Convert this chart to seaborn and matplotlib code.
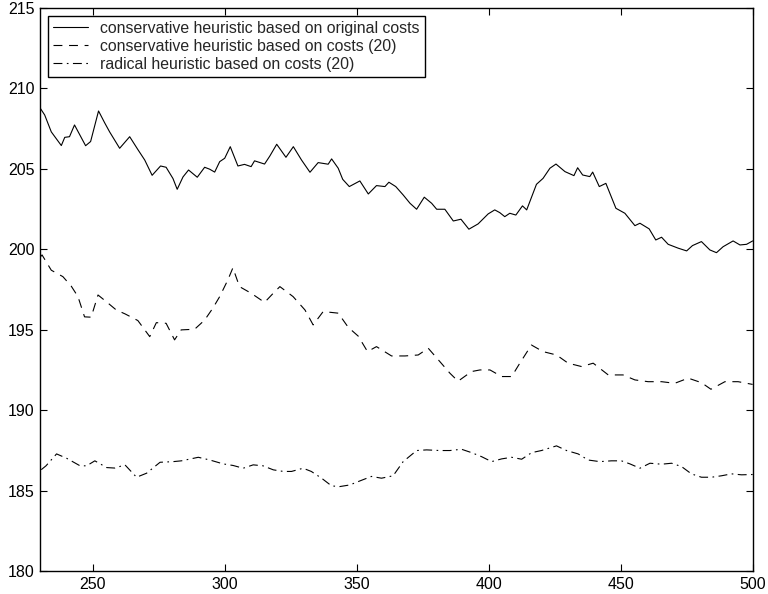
import matplotlib
matplotlib.use("Agg")
import matplotlib.pyplot as plt
import seaborn as sns

# conservative heuristic, original costs (solid)
orig_x = [230, 231.8, 234.3, 238.1, 239.4, 241.2, 243.1, 247.3, 249.2, 252.2, 254.5, 256.4,
          260.2, 264.0, 267.1, 269.7, 272.5, 275.7, 277.8, 280.4, 282.0, 284.2, 286.3, 289.6,
          292.4, 294.3, 296.2, 298.1, 300.0, 302.1, 305.0, 307.5, 310.0, 311.3, 315.1, 317.1,
          319.7, 323.2, 326.0, 329.1, 332.3, 335.4, 339.2, 340.5, 343.0, 344.7, 347.2, 351.2,
          354.4, 357.5, 360.7, 362.2, 364.8, 367.6, 370.2, 372.7, 375.6, 378.4, 380.3, 383.4,
          386.6, 389.5, 392.5, 396.0, 399.8, 402.3, 404.2, 406.1, 408.0, 410.3, 412.8, 414.4,
          418.1, 420.6, 423.2, 425.5, 428.9, 432.3, 433.7, 435.6, 438.3, 439.4, 441.9, 444.4,
          448.2, 451.6, 455.4, 457.3, 460.8, 463.3, 465.5, 468.0, 471.8, 475.0, 477.2, 480.6,
          483.8, 486.3, 488.8, 492.6, 495.2, 497.7, 500]
orig_y = [208.8, 208.35, 207.3, 206.45, 206.96, 207.0, 207.73, 206.44, 206.7, 208.6, 207.87, 207.3,
          206.28, 207.0, 206.2, 205.55, 204.6, 205.18, 205.1, 204.4, 203.73, 204.5, 204.93, 204.48,
          205.1, 204.98, 204.8, 205.45, 205.66, 206.38, 205.18, 205.28, 205.14, 205.5, 205.3, 205.8,
          206.53, 205.72, 206.38, 205.55, 204.79, 205.39, 205.29, 205.62, 205.04, 204.35, 203.9, 204.25,
          203.44, 203.96, 203.9, 204.17, 203.9, 203.38, 202.86, 202.49, 203.24, 202.86, 202.49, 202.49,
          201.76, 201.87, 201.25, 201.58, 202.2, 202.45, 202.28, 202.03, 202.24, 202.13, 202.7, 202.45,
          204.04, 204.41, 205.04, 205.3, 204.83, 204.58, 205.07, 204.62, 204.52, 204.8, 203.9, 204.1,
          202.55, 202.24, 201.47, 201.62, 201.27, 200.58, 200.75, 200.31, 200.07, 199.9, 200.23, 200.48,
          199.96, 199.79, 200.16, 200.52, 200.27, 200.31, 200.52]

# conservative heuristic, costs (20) (dashed)
cons_x = [230, 230.8, 234.3, 238.7, 241.9, 244.4, 246.9, 249.4, 252.0, 255.1, 258.9, 262.3,
          267.1, 271.6, 274.1, 277.8, 281.0, 283.5, 288.6, 292.4, 295.5, 298.1, 301.2, 303.1,
          305.6, 310.0, 315.1, 318.4, 320.9, 325.9, 330.4, 333.5, 337.3, 343.0, 346.8, 350.6,
          354.1, 357.5, 363.2, 368.3, 373.3, 377.1, 381.5, 385.3, 388.4, 393.5, 396.7, 400.5,
          404.9, 408.7, 411.8, 416.2, 420.6, 425.7, 430.1, 435.2, 439.6, 445.3, 450.9, 455.4,
          460.4, 465.5, 470.5, 475.6, 480.6, 484.2, 489.5, 494.5, 500]
cons_y = [199.5, 199.65, 198.7, 198.3, 197.7, 197.06, 195.8, 195.78, 197.16, 196.75, 196.23, 195.98,
          195.57, 194.57, 195.44, 195.4, 194.37, 194.99, 195.03, 195.6, 196.34, 197.06, 198.1, 198.85,
          197.68, 197.27, 196.7, 197.27, 197.68, 197.06, 196.23, 195.3, 196.13, 196.03, 195.15, 194.6,
          193.64, 193.95, 193.37, 193.37, 193.43, 193.85, 193.02, 192.3, 191.8, 192.4, 192.5, 192.5,
          192.09, 192.09, 192.92, 194.05, 193.64, 193.43, 192.92, 192.71, 192.92, 192.19, 192.19, 191.88,
          191.77, 191.77, 191.67, 191.99, 191.71, 191.3, 191.77, 191.77, 191.6]

# radical heuristic, costs (20) (dash-dot)
rad_x = [230.5, 232.3, 236.3, 240.1, 245.2, 247.7, 250.8, 255.3, 258.4, 262.2, 266.6, 270.4,
         275.5, 280.5, 283.6, 290.0, 294.4, 299.4, 303.2, 307.0, 310.8, 314.5, 318.4, 322.2,
         325.3, 329.7, 332.8, 336.7, 340.5, 343.6, 347.4, 351.2, 355.6, 359.4, 363.8, 367.6,
         372.7, 376.5, 381.5, 385.3, 389.7, 393.5, 397.3, 401.1, 404.9, 408.7, 412.5, 416.3,
         420.0, 425.7, 429.5, 433.9, 437.7, 442.1, 446.5, 450.3, 453.5, 457.3, 461.1, 465.5,
         469.3, 473.1, 476.8, 480.6, 484.4, 488.2, 492.0, 495.8, 500]
rad_y = [186.3, 186.54, 187.28, 187.01, 186.54, 186.54, 186.85, 186.43, 186.4, 186.6, 185.83, 186.08,
         186.76, 186.8, 186.85, 187.07, 186.9, 186.66, 186.56, 186.39, 186.6, 186.54, 186.29, 186.19,
         186.19, 186.39, 186.19, 185.77, 185.29, 185.25, 185.35, 185.6, 185.88, 185.77, 185.92, 186.8,
         187.49, 187.53, 187.49, 187.49, 187.57, 187.36, 187.11, 186.8, 186.97, 187.07, 186.95, 187.36,
         187.49, 187.78, 187.49, 187.28, 186.9, 186.8, 186.85, 186.85, 186.66, 186.39, 186.7, 186.64,
         186.7, 186.49, 186.04, 185.83, 185.83, 185.92, 186.04, 185.98, 186.0]

labels = ["conservative heuristic based on original costs",
          "conservative heuristic based on costs (20)",
          "radical heuristic based on costs (20)"]

sns.set_style("ticks")
plt.rcParams["font.family"] = ["Liberation Sans", "DejaVu Sans"]

fig = plt.figure(figsize=(7.68, 5.94), dpi=100)
ax = fig.add_axes([0.052, 0.0387, 0.928, 0.9478])

sns.lineplot(x=orig_x, y=orig_y, ax=ax, color="black", linewidth=0.8,
             linestyle="-", label=labels[0], sort=False)
sns.lineplot(x=cons_x, y=cons_y, ax=ax, color="black", linewidth=0.8,
             linestyle=(0, (8, 6)), label=labels[1], sort=False)
sns.lineplot(x=rad_x, y=rad_y, ax=ax, color="black", linewidth=0.8,
             linestyle=(0, (8, 4, 1.5, 4)), label=labels[2], sort=False)

ax.set_xlim(230, 500)
ax.set_ylim(180, 215)
ax.set_xticks([250, 300, 350, 400, 450, 500])
ax.set_yticks([180, 185, 190, 195, 200, 205, 210, 215])
ax.tick_params(direction="in", top=True, right=True, length=5, width=0.8,
               labelsize=11.5, colors="black", pad=4)
for s in ax.spines.values():
    s.set_color("black")
    s.set_linewidth(1.0)

leg = ax.legend(loc="upper left", fontsize=11.4, frameon=True, fancybox=False,
                borderaxespad=0.5, handlelength=2.2, labelspacing=0.18,
                borderpad=0.32, handletextpad=0.8)
leg.get_frame().set_edgecolor("black")
leg.get_frame().set_linewidth(1.0)
leg.get_frame().set_alpha(1)

fig.savefig("out.png", dpi=100)
